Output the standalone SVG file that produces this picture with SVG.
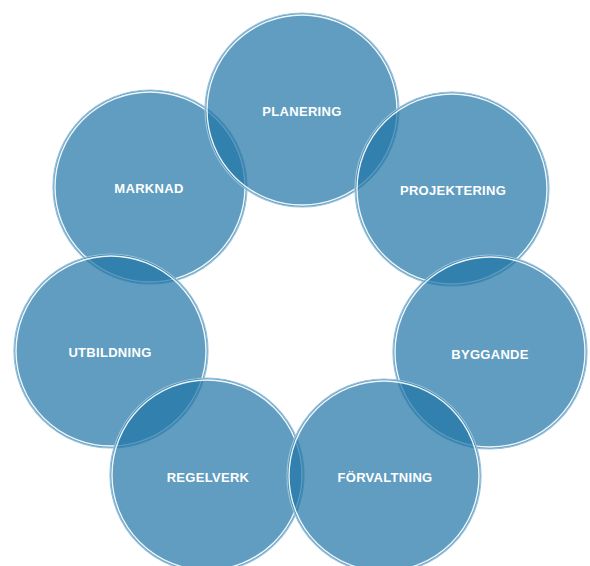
<svg xmlns="http://www.w3.org/2000/svg" width="590" height="566" viewBox="0 0 590 566">
  <style>
    .disc { fill: rgb(30,115,165); fill-opacity: 0.7; stroke: rgb(150,195,220); stroke-width: 1.2; }
    .ring { fill: none; stroke: #ffffff; stroke-width: 1.4; stroke-opacity: 0.9; }
    .lbl { font-family: "Liberation Sans", Arial, sans-serif; font-weight: bold; font-size: 13px; fill: #ffffff; text-anchor: middle; dominant-baseline: central; letter-spacing: 0.3px; }
  </style>
  <rect width="590" height="566" fill="#ffffff"/>
  <g id="nodes">
    <g id="node-marknad">
      <circle class="disc" cx="150" cy="187" r="97"/>
      <circle class="ring" cx="150" cy="187" r="95"/>
      <text class="lbl" x="149" y="188">MARKNAD</text>
    </g>
    <g id="node-planering">
      <circle class="disc" cx="302" cy="110" r="97"/>
      <circle class="ring" cx="302" cy="110" r="95"/>
      <text class="lbl" x="302" y="111">PLANERING</text>
    </g>
    <g id="node-projektering">
      <circle class="disc" cx="452" cy="189" r="97"/>
      <circle class="ring" cx="452" cy="189" r="95"/>
      <text class="lbl" x="453" y="190">PROJEKTERING</text>
    </g>
    <g id="node-utbildning">
      <circle class="disc" cx="111" cy="351" r="97"/>
      <circle class="ring" cx="111" cy="351" r="95"/>
      <text class="lbl" x="110" y="352">UTBILDNING</text>
    </g>
    <g id="node-byggande">
      <circle class="disc" cx="490" cy="352" r="97"/>
      <circle class="ring" cx="490" cy="352" r="95"/>
      <text class="lbl" x="490" y="354">BYGGANDE</text>
    </g>
    <g id="node-regelverk">
      <circle class="disc" cx="207" cy="475" r="97"/>
      <circle class="ring" cx="207" cy="475" r="95"/>
      <text class="lbl" x="208" y="477">REGELVERK</text>
    </g>
    <g id="node-forvaltning">
      <circle class="disc" cx="384" cy="476" r="97"/>
      <circle class="ring" cx="384" cy="476" r="95"/>
      <text class="lbl" x="385" y="477">FÖRVALTNING</text>
    </g>
  </g>
  <g id="connectors"/>
</svg>
